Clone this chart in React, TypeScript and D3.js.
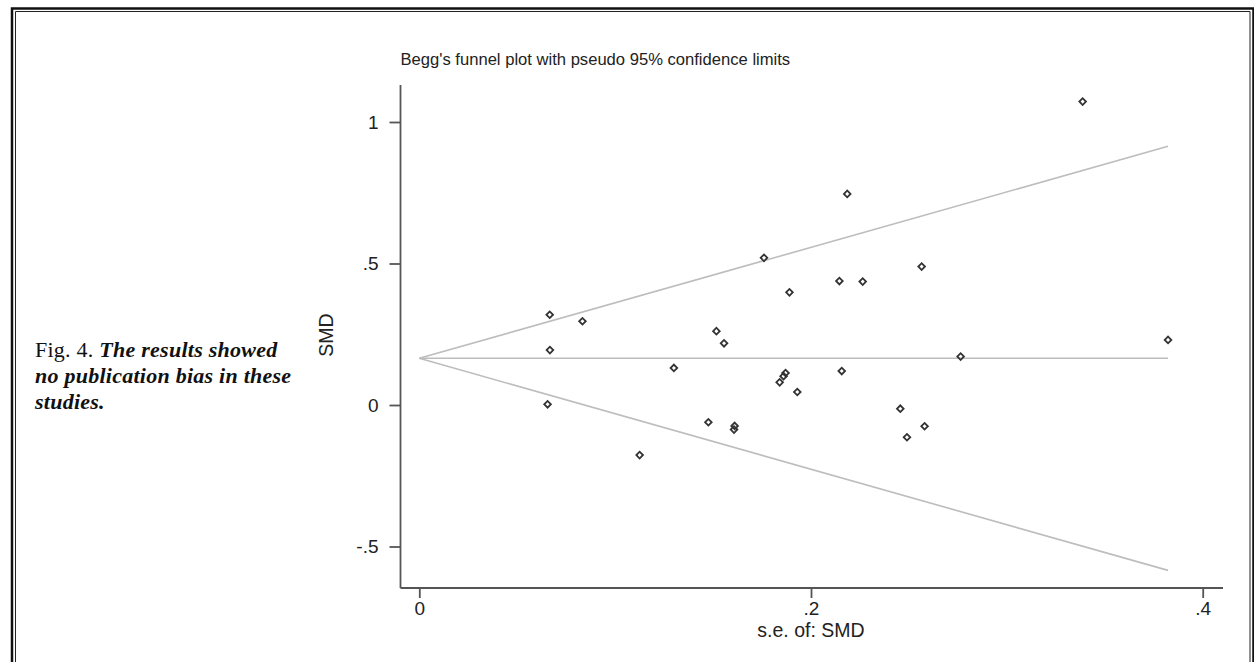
import React, { useEffect, useRef } from "react";
import * as d3 from "d3";

// standard error of each study (x) and its SMD (y)
const seSMD = [
  0.0666, 0.0833, 0.0667, 0.0655, 0.1125, 0.2185, 0.176, 0.2565, 0.2145, 0.2264,
  0.189, 0.1517, 0.1556, 0.13, 0.187, 0.186, 0.184, 0.193, 0.2157, 0.1476,
  0.161, 0.1607, 0.2456, 0.258, 0.249, 0.3387, 0.2764, 0.3823,
];
const smdValues = [
  0.319, 0.296, 0.194, 0.0025, -0.177, 0.746, 0.52, 0.489, 0.438, 0.436,
  0.398, 0.261, 0.218, 0.131, 0.113, 0.102, 0.08, 0.046, 0.12, -0.061,
  -0.074, -0.087, -0.013, -0.075, -0.114, 1.072, 0.171, 0.23,
];

// pooled estimate and the range of s.e. used for the pseudo 95% limits
const pooledSMD = 0.165;
const seRange = [0, 0.3823];
const zCrit = 1.96;

const xTicks = [0, 0.2, 0.4];
const yTicks = [-0.5, 0, 0.5, 1];

const chartTitle = "Begg's funnel plot with pseudo 95% confidence limits";
const xTitle = "s.e. of: SMD";
const yTitle = "SMD";

// Stata style: ".5" instead of "0.5"
const stataFmt = (d: number) => String(d).replace("0.", ".");

const App = () => {
  const ref = useRef<SVGSVGElement>(null);

  useEffect(() => {
    const svg = d3.select(ref.current);
    svg.selectAll("*").remove();

    const x = d3.scaleLinear().domain([0, 0.4]).range([419.3, 1202.7]);
    const y = d3.scaleLinear().domain([-0.5, 1]).range([546.5, 122]);
    const axisX = 400.5;
    const axisY = 588;
    const axisColor = "#555";
    const sans = "'Liberation Sans', Arial, sans-serif";

    // page frame (double rule of the printed page)
    svg.append("path")
      .attr("d", "M12,700 V8.5 H1253.5 V700")
      .attr("fill", "none")
      .attr("stroke", "#111")
      .attr("stroke-width", 2.5);
    svg.append("path")
      .attr("d", "M15.5,700 V11.5 H1250 V700")
      .attr("fill", "none")
      .attr("stroke", "#222")
      .attr("stroke-width", 1);

    // caption
    const caption = svg.append("text")
      .attr("font-family", "'Liberation Serif', 'Times New Roman', serif")
      .attr("font-size", 22)
      .attr("letter-spacing", 0.25)
      .attr("fill", "#111");
    const capLines = [
      { y: 357, parts: [{ t: "Fig. 4. ", it: false }, { t: "The results showed", it: true }] },
      { y: 383, parts: [{ t: "no publication bias in these", it: true }] },
      { y: 409, parts: [{ t: "studies.", it: true }] },
    ];
    capLines.forEach((line) => {
      line.parts.forEach((p, i) => {
        const ts = caption.append("tspan").text(p.t);
        if (i === 0) ts.attr("x", 35).attr("y", line.y);
        if (p.it) ts.attr("font-style", "italic").attr("font-weight", "bold");
      });
    });

    // title
    svg.append("text")
      .attr("x", axisX)
      .attr("y", 65)
      .attr("font-family", sans)
      .attr("font-size", 16.6)
      .attr("fill", "#222")
      .text(chartTitle);

    // axis lines
    svg.append("line")
      .attr("x1", axisX).attr("x2", axisX)
      .attr("y1", 85).attr("y2", axisY)
      .attr("stroke", axisColor).attr("stroke-width", 1.8);
    svg.append("line")
      .attr("x1", axisX).attr("x2", 1223)
      .attr("y1", axisY).attr("y2", axisY)
      .attr("stroke", axisColor).attr("stroke-width", 1.8);

    // y ticks
    const yAxis = svg.append("g")
      .attr("transform", `translate(${axisX},0)`)
      .call(d3.axisLeft(y).tickValues(yTicks).tickFormat((d) => stataFmt(+d)).tickSize(11).tickPadding(11));
    yAxis.select(".domain").remove();
    yAxis.selectAll("line").attr("stroke", axisColor).attr("stroke-width", 1.8);
    yAxis.selectAll("text")
      .attr("font-family", sans)
      .attr("font-size", 19)
      .attr("fill", "#222");

    // x ticks
    const xAxis = svg.append("g")
      .attr("transform", `translate(0,${axisY})`)
      .call(d3.axisBottom(x).tickValues(xTicks).tickFormat((d) => stataFmt(+d)).tickSize(10).tickPadding(4));
    xAxis.select(".domain").remove();
    xAxis.selectAll("line").attr("stroke", axisColor).attr("stroke-width", 1.8);
    xAxis.selectAll("text")
      .attr("font-family", sans)
      .attr("font-size", 19)
      .attr("fill", "#222");

    // axis titles
    svg.append("text")
      .attr("x", (x(0.2) as number))
      .attr("y", 637)
      .attr("text-anchor", "middle")
      .attr("font-family", sans)
      .attr("font-size", 19.5)
      .attr("fill", "#222")
      .text(xTitle);
    svg.append("text")
      .attr("transform", `translate(333,335) rotate(-90)`)
      .attr("text-anchor", "middle")
      .attr("font-family", sans)
      .attr("font-size", 19.5)
      .attr("fill", "#222")
      .text(yTitle);

    // pooled line and pseudo 95% limits
    const lineGen = d3.line<[number, number]>()
      .x((d) => x(d[0]))
      .y((d) => y(d[1]));
    const limits: [number, number][][] = [
      seRange.map((s) => [s, pooledSMD] as [number, number]),
      seRange.map((s) => [s, pooledSMD + zCrit * s] as [number, number]),
      seRange.map((s) => [s, pooledSMD - zCrit * s] as [number, number]),
    ];
    svg.selectAll(".limit")
      .data(limits)
      .enter()
      .append("path")
      .attr("class", "limit")
      .attr("d", (d) => lineGen(d))
      .attr("fill", "none")
      .attr("stroke", "#bdbdbd")
      .attr("stroke-width", 1.6);

    // study markers (hollow diamonds)
    const pts = seSMD.map((s, i) => ({ se: s, smd: smdValues[i] }));
    svg.selectAll(".study")
      .data(pts)
      .enter()
      .append("path")
      .attr("class", "study")
      .attr("d", d3.symbol(d3.symbolSquare, 22)())
      .attr("transform", (d) => `translate(${x(d.se)},${y(d.smd)}) rotate(45)`)
      .attr("fill", "none")
      .attr("stroke", "#333")
      .attr("stroke-width", 1.8);
  }, []);

  return (
    <svg
      ref={ref}
      width={1254}
      height={662}
      style={{ position: "absolute", left: 0, top: 0, background: "#fff" }}
    />
  );
};

export default App;
